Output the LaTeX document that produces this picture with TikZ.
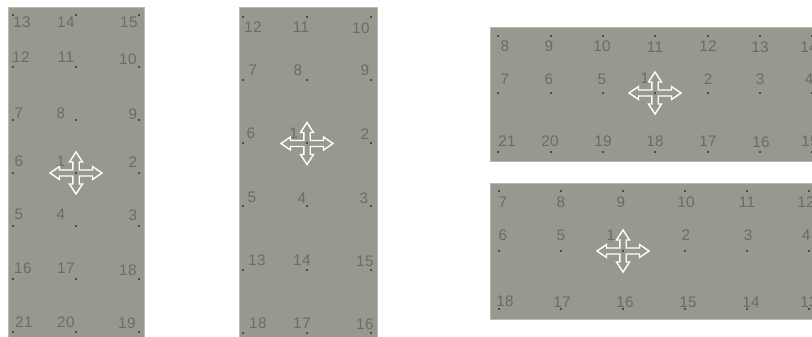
\documentclass[tikz,border=0pt]{standalone}
\usepackage{fontspec}
\setmainfont{Liberation Sans}[LetterSpace=3]
\definecolor{panelgrey}{HTML}{98988E}
\definecolor{edgegrey}{HTML}{B9B9B0}
\definecolor{numgrey}{HTML}{6C6C66}
\tikzset{
    panelbox/.style={fill=panelgrey,draw=edgegrey,line width=0.5pt},
    numlabel/.style={text=numgrey,inner sep=0pt,font=\fontsize{11.5}{12}\selectfont},
    gridpoint/.style={fill=black,radius=0.8},
    moveline/.style={draw=white,line width=1.05pt,line join=miter}
}
\begin{document}
\begin{tikzpicture}[x=0.75pt,y=-0.75pt]
    \useasboundingbox (0,0) rectangle (812,336);
    % panels
    \draw[panelbox] (8,7) rectangle (144,340);
    \draw[panelbox] (239,7) rectangle (377,340);
    \draw[panelbox] (490,27) rectangle (816,161);
    \draw[panelbox] (490,183) rectangle (816,319);
    % points
    \foreach \x in {13,76,139}
        \foreach \y in {15,67,120,173,226,279,332}
            \fill[gridpoint] (\x,\y) circle;
    \foreach \x in {243,307,371}
        \foreach \y in {17,80,143,206,270,333}
            \fill[gridpoint] (\x,\y) circle;
    \foreach \x in {498,551,603,655,708,760,812}
        \foreach \y in {36,93,152}
            \fill[gridpoint] (\x,\y) circle;
    \foreach \x in {499,561,623,685,747,809}
        \foreach \y in {191,251,309}
            \fill[gridpoint] (\x,\y) circle;
    % first panel
    \foreach \n/\x/\y in {13/22/22,14/66/22,15/129/22,12/21/57,11/66/57,10/128/59,
        7/19/113,8/61/113,9/133/114,6/19/161,1/61/161,2/133/162,5/19/214,4/61/214,3/133/215,
        16/23/268,17/66/268,18/128/270,21/24/322,20/66/322,19/127/323}
        \node[numlabel] (a\n) at (\x,\y) {\n};
    % second panel
    \foreach \n/\x/\y in {12/253/27,11/301/27,10/361/28,7/253/70,8/298/70,9/365/70,
        6/251/133,1/294/133,2/365/134,5/252/197,4/302/198,3/364/198,
        13/257/260,14/302/260,15/365/261,18/258/323,17/302/323,16/365/324}
        \node[numlabel] (b\n) at (\x,\y) {\n};
    % third panel
    \foreach \n/\x/\y in {8/505/46,9/549/46,10/602/46,11/655/47,12/708/46,13/760/47,14/809/47,
        7/505/79,6/549/79,5/602/79,1/645/78,2/708/79,3/760/79,4/809/79,
        21/507/141,20/550/141,19/603/141,18/655/141,17/708/141,16/761/142,15/810/141}
        \node[numlabel] (c\n) at (\x,\y) {\n};
    % fourth panel
    \foreach \n/\x/\y in {7/503/202,8/561/202,9/621/202,10/686/202,11/747/202,12/806/202,
        6/503/235,5/561/235,1/611/235,2/686/235,3/748/235,4/806/235,
        18/505/301,17/562/302,16/625/302,15/688/302,14/751/302,13/809/302}
        \node[numlabel] (d\n) at (\x,\y) {\n};
    % move crosses
    \foreach \cx/\cy in {76/173,307/143.5,655/93,623/251}
        \draw[moveline,shift={(\cx,\cy)}]
            (0,-21) -- (6.5,-11) -- (3.2,-11) -- (3.2,-3) -- (16.5,-3) -- (16.5,-6.5) -- (26,0)
            -- (16.5,6.5) -- (16.5,3) -- (3.2,3) -- (3.2,11) -- (6.5,11) -- (0,21)
            -- (-6.5,11) -- (-3.2,11) -- (-3.2,3) -- (-16.5,3) -- (-16.5,6.5) -- (-26,0)
            -- (-16.5,-6.5) -- (-16.5,-3) -- (-3.2,-3) -- (-3.2,-11) -- (-6.5,-11) -- cycle;
\end{tikzpicture}
\end{document}
